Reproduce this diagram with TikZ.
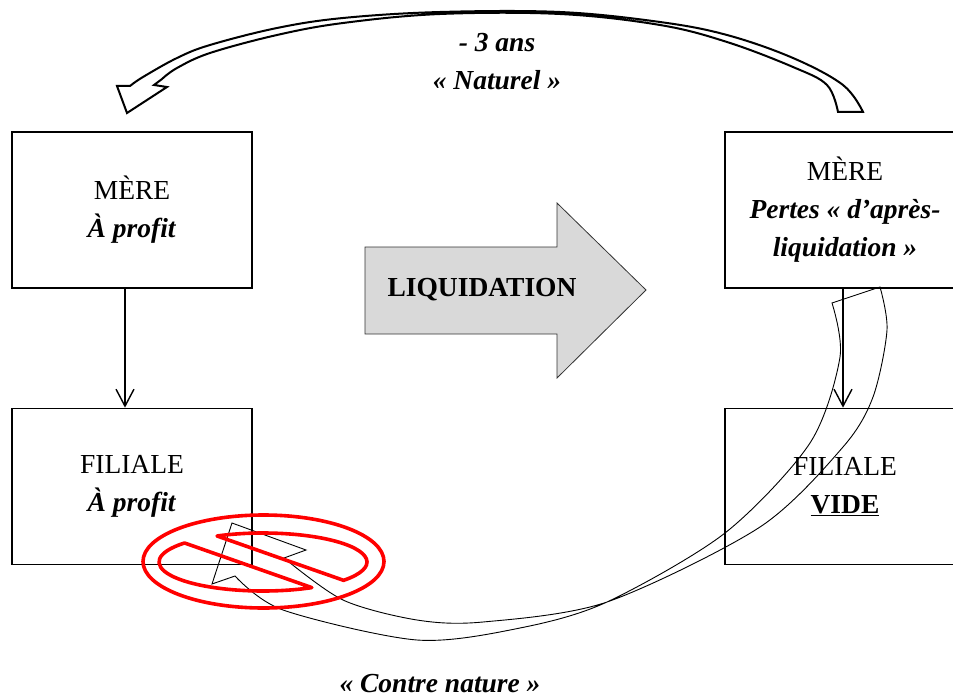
\documentclass[tikz,border=0pt]{standalone}
\usepackage{fontspec}
\setmainfont{Liberation Serif}
\usepackage{tikz}
\usetikzlibrary{positioning, arrows.meta}

\begin{document}
\begin{tikzpicture}[x=1pt, y=-1pt, node distance=119pt,
  every node/.style={font=\fontsize{27.5}{38}\selectfont},
  boite/.style={rectangle, draw, line width=1.3pt, minimum width=240pt, minimum height=156pt, align=center, inner sep=0pt},
  fleche/.style={line width=1.4pt, -{Straight Barb[length=17pt, width=18pt, line width=1.4pt]}},
  blocfleche/.style={draw, line width=2pt, fill=white, line join=miter},
  ruban/.style={draw, line width=0.9pt, line join=miter},
  interdit/.style={draw=red, line width=3.6pt, line join=round}]

\useasboundingbox (0,0) rectangle (953,698);
\clip (0,0) rectangle (953,698);

% avant la liquidation
\node (mereG) [boite] at (132,210) {MÈRE\\ \textbf{\textit{À profit}}};
\node (filialeG) [boite, below=of mereG] {FILIALE\\ \textbf{\textit{À profit}}};

% apres la liquidation
\node (mereD) [boite] at (845,210) {MÈRE\\ \textbf{\textit{Pertes « d’après-}}\\ \textbf{\textit{liquidation »}}};
\node (filialeD) [boite, below=of mereD] {FILIALE\\ \underline{\textbf{VIDE}}};

\draw[fleche] ([xshift=-7pt]mereG.south) -- ([xshift=-7pt]filialeG.north);
\draw[fleche] ([xshift=-2pt]mereD.south) -- ([xshift=-2pt]filialeD.north);

% grande fleche grise
\draw[draw=black!80, line width=0.8pt, fill=gray!30]
  (365,247) -- (557,247) -- (557,203) -- (646,290) -- (557,378) -- (557,334) -- (365,334) -- cycle;
\node (liquidation) at (482,290) {\textbf{LIQUIDATION}};

% fleche du haut
\path[blocfleche]
  plot[smooth, tension=0.6] coordinates {(130,86) (143,77) (177,58) (210,45) (277,28) (343,18) (440,12) (560,12) (660,22) (727,35) (793,58) (843,85) (863,112)}
  -- (838,112)
  -- plot[smooth, tension=0.6] coordinates {(838,112) (827,85) (793,67) (727,42) (660,25) (560,14) (440,14) (343,23) (277,35) (210,53) (177,68) (162,79)}
  -- (154,85) -- (167,87) -- (127,113) -- (117,86) -- cycle;
\node (naturel) [align=center] at (497,62) {\textbf{\textit{- 3 ans}}\\ \textbf{\textit{« Naturel »}}};

% fleche du bas
\path[ruban]
  plot[smooth, tension=0.5] coordinates {(235,576) (283,610) (417,640) (520,628) (607,602) (725,533) (810,443) (840,357) (832,303)}
  -- (880,287)
  -- plot[smooth, tension=0.5] coordinates {(880,287) (887,330) (873,397) (843,447) (760,527) (607,602) (483,622) (417,620) (343,600) (284,558)}
  -- (306,550) -- (232,523) -- (212,584) -- cycle;
\node (contre) at (440,684) {\textbf{\textit{« Contre nature »}}};

% interdiction
\draw[interdit] (263.5,561.5) ellipse [x radius=120.5, y radius=46.5];
\draw[interdit, shift={(263,562)}] (221:104 and 29) -- (62:104 and 29) arc[start angle=62, end angle=221, x radius=104, y radius=29] -- cycle;
\draw[interdit, shift={(263,562)}] (243.8:104 and 29) -- (39.2:104 and 29) arc[start angle=39.2, end angle=-116.2, x radius=104, y radius=29] -- cycle;

\end{tikzpicture}
\end{document}
